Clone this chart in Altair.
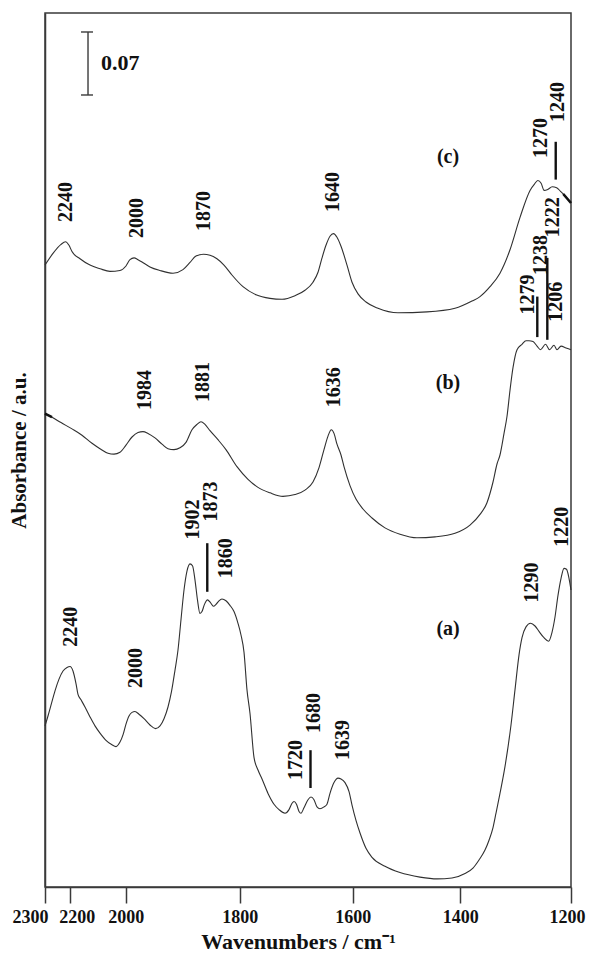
import altair as alt
import pandas as pd

# ---------------- data ----------------
# (wavenumber / cm-1, absorbance) pairs for each spectrum
spec_c = [(2300,0.691),(2267.6,0.704),(2235.2,0.714),(2217,0.717),(2202.8,0.713),(2191.8,0.706),(2163.2,0.698),
          (2127.5,0.691),(2091.8,0.687),(2056.1,0.684),(2020.4,0.685),(1999.5,0.690),(1992.5,0.697),(1985.4,0.699),
          (1978.4,0.697),(1967.9,0.693),(1957.4,0.689),(1939.8,0.685),(1917.0,0.682),(1899.5,0.686),(1887.2,0.694),
          (1876.7,0.701),(1863.5,0.703),(1852.1,0.702),(1839.9,0.698),(1827.6,0.691),(1813.6,0.680),(1794.2,0.667),
          (1771.1,0.658),(1746.4,0.654),(1725.1,0.653),(1702.1,0.657),(1684.4,0.663),(1670.3,0.672),(1661.4,0.683),
          (1654.3,0.699),(1647.3,0.713),(1640.2,0.723),(1634.0,0.726),(1627.8,0.722),(1620.7,0.712),(1610.1,0.691),
          (1601.2,0.672),(1590.1,0.659),(1575.3,0.650),(1553.0,0.643),(1515.8,0.638),(1461.9,0.639),(1409.8,0.643),
          (1378.9,0.651),(1364.4,0.656),(1346.3,0.667),(1328.3,0.682),(1310.2,0.708),(1292.1,0.744),(1274.0,0.774),
          (1266,0.781),(1260,0.785),(1254,0.782),(1248.5,0.774),(1242,0.775),(1234,0.778),(1226,0.777),(1219,0.773),
          (1214,0.770),(1207,0.765),(1200,0.760)]

spec_b = [(2300,0.526),(2271.7,0.522),(2235.2,0.516),(2191.8,0.509),(2156.1,0.502),(2120.4,0.493),(2091.8,0.487),
          (2063.2,0.482),(2041.8,0.481),(2020.4,0.483),(1999.5,0.491),(1988.9,0.500),(1978.4,0.505),(1969.7,0.506),
          (1960.9,0.504),(1948.6,0.499),(1936.3,0.492),(1925.8,0.487),(1915.3,0.486),(1904.8,0.488),(1894.2,0.494),
          (1883.7,0.508),(1874.9,0.514),(1867.9,0.517),(1860.9,0.514),(1852.1,0.507),(1838.1,0.497),(1824.1,0.486),
          (1804.8,0.467),(1785.3,0.453),(1767.6,0.444),(1746.4,0.438),(1723.4,0.434),(1702.1,0.436),(1684.4,0.441),
          (1670.3,0.450),(1659.6,0.466),(1650.8,0.486),(1643.7,0.501),(1637.9,0.508),(1633.1,0.504),(1627.8,0.492),
          (1620.7,0.480),(1615.4,0.467),(1604.8,0.446),(1593.9,0.431),(1580.9,0.420),(1564.1,0.410),(1540.0,0.399),
          (1512.1,0.392),(1480.5,0.388),(1447.0,0.389),(1409.8,0.393),(1382.5,0.402),(1364.4,0.414),(1351.8,0.427),
          (1340.9,0.450),(1333.7,0.470),(1328.3,0.480),(1321.0,0.504),(1315.6,0.523),(1310.2,0.552),(1304.8,0.577),
          (1297.5,0.597),(1288.5,0.603),(1281.3,0.607),(1275.9,0.607),(1268.6,0.606),(1261.4,0.601),(1255.1,0.597),
          (1246.0,0.603),(1238.8,0.597),(1230.7,0.602),(1225.3,0.597),(1218.0,0.601),(1209.0,0.599),(1200,0.597)]

spec_a = [(2300,0.179),(2287.9,0.190),(2275.7,0.202),(2259.5,0.218),(2243.3,0.231),(2227.1,0.240),(2210.9,0.244),
          (2198.9,0.245),(2188.2,0.240),(2177.5,0.226),(2170.4,0.214),(2159.6,0.208),(2145.4,0.200),(2127.5,0.189),
          (2109.7,0.179),(2091.8,0.171),(2070.4,0.163),(2049.0,0.158),(2034.7,0.156),(2020.4,0.161),(2009.7,0.169),
          (1999.5,0.181),(1994.2,0.190),(1988.9,0.194),(1983.7,0.195),(1976.7,0.192),(1967.9,0.187),(1957.4,0.180),
          (1947.7,0.176),(1939.8,0.179),(1932.8,0.187),(1925.8,0.200),(1919.7,0.217),(1913.5,0.241),(1908.3,0.263),
          (1903.0,0.297),(1897.7,0.330),(1892.5,0.351),(1887.2,0.359),(1882.8,0.357),(1878.4,0.341),(1874.1,0.319),
          (1869.7,0.304),(1866.2,0.306),(1861.8,0.314),(1856.5,0.319),(1851.3,0.316),(1846.0,0.312),(1841.6,0.314),
          (1836.4,0.318),(1831.1,0.320),(1824.1,0.318),(1817.1,0.313),(1810.0,0.306),(1803.0,0.293),(1797.7,0.280),
          (1792.4,0.261),(1787.1,0.219),(1781.8,0.193),(1774.7,0.144),(1767.6,0.130),(1760.5,0.120),(1749.9,0.104),
          (1739.3,0.092),(1730.4,0.086),(1719.8,0.082),(1712.7,0.086),(1707.4,0.093),(1703.9,0.095),(1699.5,0.092),
          (1695.0,0.084),(1691.5,0.082),(1686.2,0.088),(1679.1,0.097),(1673.8,0.100),(1668.5,0.097),(1663.2,0.089),
          (1657.9,0.087),(1650.8,0.089),(1645.5,0.092),(1640.2,0.104),(1633.1,0.116),(1626.0,0.121),(1620.7,0.120),
          (1613.6,0.116),(1606.5,0.106),(1601.2,0.091),(1593.9,0.074),(1586.4,0.060),(1575.3,0.043),(1564.1,0.033),
          (1540.0,0.023),(1512.1,0.016),(1474.9,0.011),(1443.3,0.009),(1415.4,0.010),(1391.5,0.015),(1377.1,0.021),
          (1366.2,0.030),(1355.4,0.041),(1348.1,0.052),(1340.9,0.066),(1335.5,0.082),(1328.3,0.104),(1319.2,0.134),
          (1308.4,0.180),(1301.2,0.219),(1293.9,0.258),(1288.5,0.277),(1281.3,0.289),(1273.1,0.293),(1265.0,0.290),
          (1257.8,0.284),(1248.8,0.277),(1240.6,0.273),(1234.3,0.283),(1228.9,0.300),(1223.5,0.324),(1218.0,0.343),
          (1212.6,0.354),(1208.1,0.353),(1203.6,0.343),(1200,0.330)]

# peak annotations: text, wavenumber, absorbance at the start of the (vertical) label
peak_labels = [("2240",2215,0.739),("2000",1980.2,0.721),("1870",1861.8,0.729),("1640",1634.9,0.750),
               ("1270",1255.1,0.810),("1240",1223.5,0.850),("1222",1232.5,0.722),("1238",1253.3,0.680),
               ("1279",1277.7,0.636),("1206",1226.2,0.628),("1984",1965.3,0.530),("1881",1864.4,0.539),
               ("1636",1633.1,0.533),("1902",1882.0,0.386),("1873",1849.5,0.406),("1860",1824.1,0.343),
               ("2240",2197.1,0.267),("2000",1981.9,0.221),("1290",1271.3,0.316),("1220",1216.2,0.378),
               ("1720",1700.3,0.119),("1680",1668.5,0.171),("1639",1617.2,0.141)]

# short marker bars under some labels: wavenumber, absorbance from, absorbance to
marker_bars = [(1227.6,0.786,0.828),(1260.9,0.611,0.656),(1242.8,0.608,0.699),
               (1856.9,0.328,0.382),(1674.7,0.110,0.152)]

series_names = ["(c)", "(b)", "(a)"]
series_label_wn = [1422.8, 1422.8, 1422.8]
series_label_abs = [0.811, 0.560, 0.287]

# 0.07 absorbance scale bar
bar_wn = 2134.6
bar_cap_wn = [2159.6, 2116.8]
bar_low = 0.880
bar_size = 0.07
bar_text = "0.07"
bar_text_wn = 2088.2

x_ticks = [2300, 2200, 2000, 1800, 1600, 1400, 1200]

# ---------------- tables ----------------
rows = []
for name, spec in (("c", spec_c), ("b", spec_b), ("a", spec_a)):
    for i, (w, a) in enumerate(spec):
        rows.append({"series": name, "order": i, "wn": w, "abs": a})
spectra = pd.DataFrame(rows)

peaks = pd.DataFrame(peak_labels, columns=["text", "wn", "abs"])
bars = pd.DataFrame(marker_bars, columns=["wn", "y1", "y2"])
names = pd.DataFrame({"text": series_names, "wn": series_label_wn, "abs": series_label_abs})
sbar = pd.DataFrame({"wn": [bar_wn], "y1": [bar_low], "y2": [bar_low + bar_size]})
scaps = pd.DataFrame({"x1": [bar_cap_wn[0], bar_cap_wn[0]], "x2": [bar_cap_wn[1], bar_cap_wn[1]],
                      "y": [bar_low, bar_low + bar_size]})
stext = pd.DataFrame({"text": [bar_text], "wn": [bar_text_wn], "abs": [bar_low + bar_size / 2]})

FONT = "Liberation Serif"
AX = "#3a3a3a"
LINE = "#303030"

xscale = alt.Scale(domain=x_ticks, range=[0, 24.7, 80.7, 194.7, 307.7, 415.3, 526], zero=False, nice=False)
yscale = alt.Scale(domain=[0, 0.9711], zero=False, nice=False)

xaxis = alt.Axis(values=x_ticks, format="d", title="Wavenumbers / cm\u207b\u00b9",
                 grid=False, tickSize=16, tickWidth=1.5, tickColor=AX,
                 domainColor=AX, domainWidth=1.5,
                 labelFont=FONT, labelFontWeight="bold", labelFontSize=18, labelColor="#111",
                 labelPadding=5, labelOverlap=False, labelFlush=False,
                 labelOffset={"condition": [{"test": "datum.value == 2300", "value": -15},
                                            {"test": "datum.value == 2200", "value": 7},
                                            {"test": "datum.value == 1200", "value": -4}],
                              "value": 0},
                 titleFont=FONT, titleFontWeight="bold", titleFontSize=22, titleColor="#111",
                 titlePadding=5, titleX=253)
yaxis = alt.Axis(labels=False, ticks=False, grid=False, title="Absorbance / a.u.",
                 domainColor=AX, domainWidth=1.5,
                 titleFont=FONT, titleFontWeight="bold", titleFontSize=21, titleColor="#111",
                 titlePadding=16)

base = alt.Chart(spectra)

lines = base.mark_line(color=LINE, strokeWidth=1.1, interpolate="monotone").encode(
    x=alt.X("wn:Q", scale=xscale, axis=xaxis),
    y=alt.Y("abs:Q", scale=yscale, axis=yaxis),
    detail="series:N",
    order="order:Q",
)

bold_ends = base.transform_filter(
    "(datum.series == 'c' && datum.wn <= 1214) || (datum.series == 'b' && datum.wn >= 2271)"
).mark_line(color="#111", strokeWidth=2.6).encode(
    x=alt.X("wn:Q", scale=xscale),
    y=alt.Y("abs:Q", scale=yscale),
    detail="series:N",
    order="order:Q",
)

peak_text = alt.Chart(peaks).mark_text(
    angle=270, align="left", baseline="middle", font=FONT, fontWeight="bold", fontSize=20, color="#111"
).encode(x=alt.X("wn:Q", scale=xscale), y=alt.Y("abs:Q", scale=yscale), text="text:N")

bar_rules = alt.Chart(bars).mark_rule(color="#111", strokeWidth=2.4).encode(
    x=alt.X("wn:Q", scale=xscale), y=alt.Y("y1:Q", scale=yscale), y2="y2:Q")

name_text = alt.Chart(names).mark_text(
    align="center", baseline="middle", font=FONT, fontWeight="bold", fontSize=20, color="#111"
).encode(x=alt.X("wn:Q", scale=xscale), y=alt.Y("abs:Q", scale=yscale), text="text:N")

scale_rule = alt.Chart(sbar).mark_rule(color=AX, strokeWidth=1.4).encode(
    x=alt.X("wn:Q", scale=xscale), y=alt.Y("y1:Q", scale=yscale), y2="y2:Q")
scale_caps = alt.Chart(scaps).mark_rule(color=AX, strokeWidth=1.4).encode(
    x=alt.X("x1:Q", scale=xscale), x2="x2:Q", y=alt.Y("y:Q", scale=yscale))
scale_text = alt.Chart(stext).mark_text(
    align="left", baseline="middle", font=FONT, fontWeight="bold", fontSize=22, color="#111"
).encode(x=alt.X("wn:Q", scale=xscale), y=alt.Y("abs:Q", scale=yscale), text="text:N")

chart = alt.layer(
    lines, bold_ends, peak_text, bar_rules, name_text, scale_rule, scale_caps, scale_text
).properties(
    width=526, height=874,
    autosize=alt.AutoSizeParams(type="none"),
    padding={"left": 37, "top": 5, "right": 15, "bottom": 68},
    background="white",
).configure_view(stroke=AX, strokeWidth=1.5)

chart.save("out.html", embed_options={"renderer": "svg", "actions": False})
